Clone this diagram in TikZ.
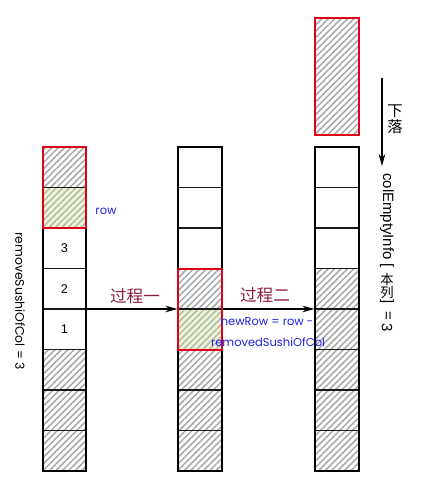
\documentclass[tikz,border=0pt]{standalone}
\usepackage{fontspec}
\setmainfont{Liberation Sans}
\newfontfamily\gothic{Poppins}
\newfontfamily\cjk{Noto Sans CJK SC}
\usetikzlibrary{patterns.meta,arrows.meta}
\definecolor{hatchgray}{gray}{0.66}
\definecolor{paleGreen}{HTML}{EDF3DC}
\definecolor{greenhatch}{HTML}{B2BDA0}
\definecolor{boxred}{HTML}{E0001A}
\definecolor{procred}{HTML}{8B1E3F}
\definecolor{lblblue}{HTML}{2020E8}
\tikzset{
  hatch/.style={pattern={Lines[angle=45,distance=3.4pt,line width=1.15pt]},pattern color=hatchgray},
  ghatch/.style={pattern={Lines[angle=45,distance=3.4pt,line width=1.15pt]},pattern color=greenhatch},
  greencell/.style={fill=paleGreen},
  divider/.style={draw=black!90,line width=1.05pt},
  colbox/.style={draw=black,line width=1.4pt,minimum width=32.6pt,minimum height=243pt,inner sep=0pt},
  redbox/.style={draw=boxred,line width=1.5pt},
  arr/.style={draw=black,line width=0.8pt,-{Stealth[length=9pt,width=5pt]}},
  proc/.style={text=procred,font=\cjk\fontsize{12.5}{14}\selectfont},
  bluelbl/.style={text=lblblue,font=\gothic\fontsize{8.6}{10}\selectfont,inner sep=0pt},
  num/.style={font=\fontsize{9.5}{11}\selectfont},
  side/.style={font=\fontsize{11.2}{13}\selectfont,rotate=-90,inner sep=0pt},
  sidecjk/.style={font=\cjk\fontsize{10}{12}\selectfont,inner sep=0pt},
}
\begin{document}
\begin{tikzpicture}[x=0.75pt,y=-0.75pt]
\useasboundingbox (0,0) rectangle (424,488);
% column 1
\foreach \i in {0,1,5,6,7} {\path[hatch] (43,147+40.5*\i) rectangle (86,147+40.5*\i+40.5);}
\path[greencell] (43,187.5) rectangle (86,228);
\path[ghatch] (43,187.5) rectangle (86,228);
\foreach \i in {1,...,7} {\draw[divider] (43,147+40.5*\i) -- (86,147+40.5*\i);}
\node[colbox] (c1) at (64.5,309) {};
\node[num] (n3) at (64.5,248.25) {3};
\node[num] (n2) at (64.5,288.75) {2};
\node[num] (n1) at (64.5,329.25) {1};
\draw[redbox] (43,147) rectangle (86,228);
% column 2
\foreach \i in {3,5,6,7} {\path[hatch] (178,147+40.5*\i) rectangle (222,147+40.5*\i+40.5);}
\path[greencell] (178,309) rectangle (222,349.5);
\path[ghatch] (178,309) rectangle (222,349.5);
\foreach \i in {1,...,7} {\draw[divider] (178,147+40.5*\i) -- (222,147+40.5*\i);}
\node[colbox] (c2) at (200,309) {};
\draw[redbox] (178,268.5) rectangle (222,349.5);
% column 3
\foreach \i in {3,...,7} {\path[hatch] (315,147+40.5*\i) rectangle (359,147+40.5*\i+40.5);}
\foreach \i in {1,...,7} {\draw[divider] (315,147+40.5*\i) -- (359,147+40.5*\i);}
\node[colbox] (c3) at (337,309) {};
% falling block
\path[hatch] (315.5,18) rectangle (358.5,135);
\node[redbox,minimum width=32.6pt,minimum height=87.75pt,inner sep=0pt] (fall) at (337,76.5) {};
% arrows
\draw[arr] (c1.east) -- (c2.west);
\draw[arr] (c2.east) -- (c3.west);
\node[proc] (p1) at (135,296) {过程一};
\node[proc] (p2) at (265,295) {过程二};
\node[bluelbl] (nr1) at (267,322) {newRow = row -};
\node[bluelbl] (nr2) at (268,342) {removedSushiOfCol};
\node[bluelbl] (row) at (106,211) {row};
\node[font=\gothic\fontsize{9.3}{11}\selectfont,rotate=-90,inner sep=0pt] (rs) at (20,301) {removeSushiOfCol = 3};
% fall arrow
\coordinate (fa) at (382,78);
\coordinate (fb) at (382,166);
\draw[arr] (fa) -- (fb);
\node[font=\cjk\fontsize{11.5}{13}\selectfont,inner sep=0pt] (xia) at (395,111) {下};
\node[font=\cjk\fontsize{11.5}{13}\selectfont,inner sep=0pt] (luo) at (395,127) {落};
\node[side,anchor=west] (cei) at (387,173) {colEmptyInfo [};
\node[sidecjk] (ben) at (387,279) {本};
\node[sidecjk] (lie) at (387,292) {列};
\node[side] (rb) at (387,302) {]};
\node[side] (eq) at (387,316) {=};
\node[side] (three) at (387,328) {3};
\end{tikzpicture}
\end{document}
